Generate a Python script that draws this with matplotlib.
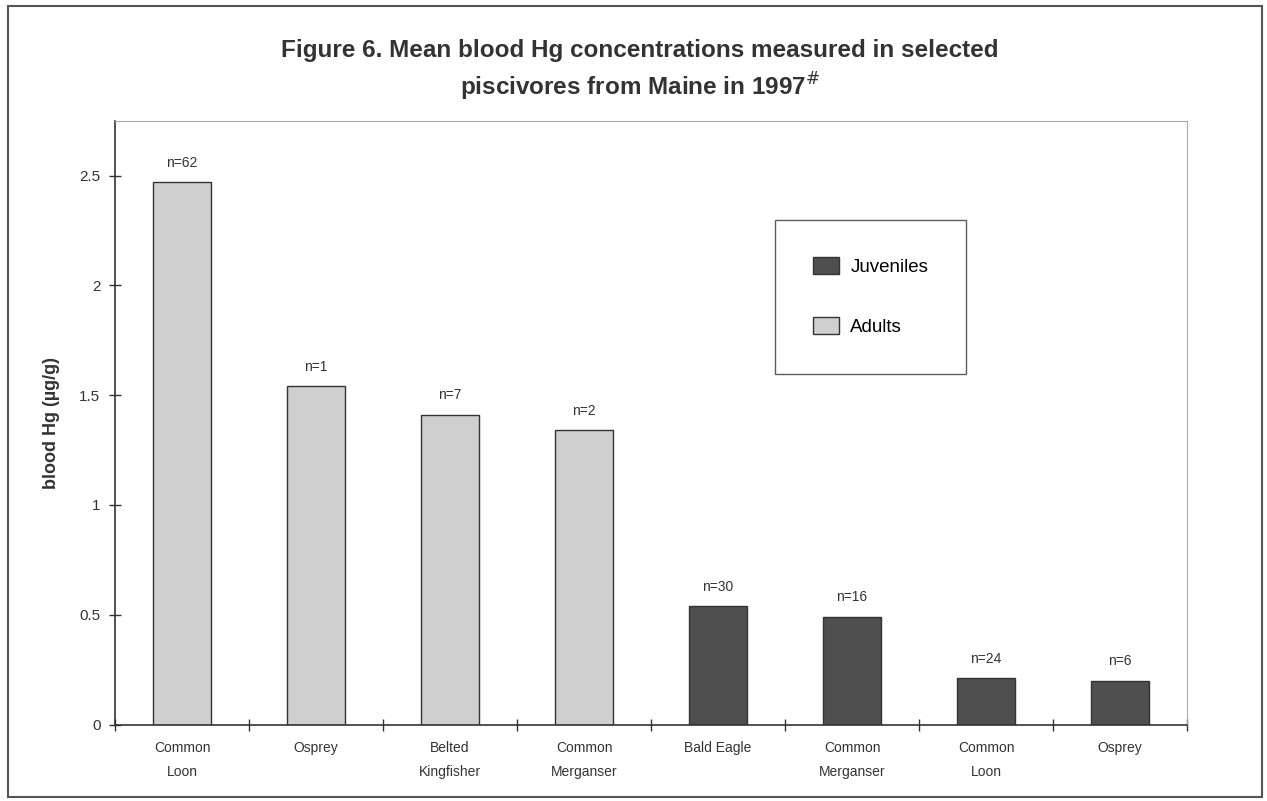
import matplotlib.pyplot as plt
from matplotlib.patches import Patch, Rectangle

# mean blood Hg (ug/g) per group, adults first then juveniles
birds = ["Common\nLoon", "Osprey", "Belted\nKingfisher", "Common\nMerganser",
         "Bald Eagle", "Common\nMerganser", "Common\nLoon", "Osprey"]
hg = [2.47, 1.54, 1.41, 1.34, 0.54, 0.49, 0.21, 0.20]
n_labels = ["n=62", "n=1", "n=7", "n=2", "n=30", "n=16", "n=24", "n=6"]
age = ["Adults"] * 4 + ["Juveniles"] * 4

colors = {"Adults": "#cfcfcf", "Juveniles": "#4f4f4f"}
plt.rcParams["font.family"] = ["Liberation Sans", "DejaVu Sans"]

fig = plt.figure(figsize=(12.67, 8.01), dpi=100)
ax = fig.add_axes([0.0908, 0.0954, 0.8461, 0.7539])

x = range(len(birds))
bars = ax.bar(x, hg, width=0.43, color=[colors[a] for a in age],
              edgecolor="#333333", linewidth=1.0)

for i, b in enumerate(bars):
    ax.annotate(n_labels[i], (b.get_x() + b.get_width() / 2, b.get_height()),
                xytext=(0, 9), textcoords="offset points",
                ha="center", va="bottom", fontsize=10, color="#333333")

ax.set_xlim(-0.5, len(birds) - 0.5)
ax.set_ylim(0, 2.75)
ax.set_yticks([0, 0.5, 1, 1.5, 2, 2.5])
ax.set_yticklabels(["0", "0.5", "1", "1.5", "2", "2.5"])
ax.set_xticks(list(x))
ax.set_xticklabels(birds, fontsize=10, linespacing=1.9)
ax.tick_params(axis="x", which="major", length=0, pad=12, colors="#333333")
ax.set_xticks([i + 0.5 for i in range(-1, len(birds))], minor=True)
ax.tick_params(axis="x", which="minor", direction="inout", length=9, width=1, color="#333333")
ax.tick_params(axis="y", direction="inout", length=9, width=1, labelsize=11,
               colors="#333333", pad=6)

ax.set_ylabel("blood Hg (µg/g)", fontsize=13, fontweight="bold", color="#333333", labelpad=14)

for side in ["top", "right"]:
    ax.spines[side].set_color("#aaaaaa")
for side in ["left", "bottom"]:
    ax.spines[side].set_color("#333333")
    ax.spines[side].set_linewidth(1.2)

handles = [Patch(facecolor=colors["Juveniles"], edgecolor="#333333", label="Juveniles"),
           Patch(facecolor=colors["Adults"], edgecolor="#333333", label="Adults")]
leg = ax.legend(handles=handles, loc="upper left", bbox_to_anchor=(0.616, 0.836),
                fontsize=13.5, frameon=True, fancybox=False, edgecolor="#333333",
                borderpad=2.0, labelspacing=2.2, handlelength=1.4, handleheight=1.0,
                handletextpad=0.6, borderaxespad=0)
leg.get_frame().set_linewidth(1.0)

fig.text(0.505, 0.937, "Figure 6. Mean blood Hg concentrations measured in selected",
         ha="center", va="center", fontsize=17.5, fontweight="bold", color="#333333")
fig.text(0.505, 0.891, "piscivores from Maine in 1997$^{\\#}$",
         ha="center", va="center", fontsize=17.5, fontweight="bold", color="#333333")

# outer frame round the whole figure
fig.patches.append(Rectangle((0.006, 0.005), 0.99, 0.987, transform=fig.transFigure,
                             fill=False, edgecolor="#555555", linewidth=1.5))

fig.savefig("out.png", dpi=100)
